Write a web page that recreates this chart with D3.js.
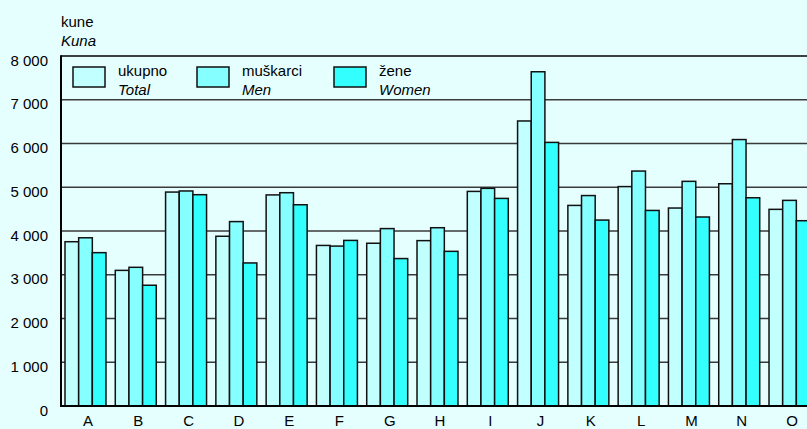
<!DOCTYPE html>
<html lang="hr">
  <head>
    <meta charset="utf-8">
    <script src="https://d3js.org/d3.v7.min.js"></script>
    <style>
      body { margin: 0; background: #e5ffff; }
      text { font-family: "Liberation Sans", Arial, sans-serif; font-size: 15px; fill: #000; }
    </style>
  </head>
  <body>
  <script type="text/javascript">

    // categories (activity sections) and average wages in kune
    var categories = ["A","B","C","D","E","F","G","H","I","J","K","L","M","N","O"];
    var total = [3755, 3100, 4890, 3880, 4825, 3670, 3720, 3780, 4905, 6515, 4585, 5015, 4525, 5080, 4495];
    var men   = [3845, 3170, 4915, 4215, 4875, 3655, 4055, 4075, 4975, 7640, 4810, 5370, 5135, 6090, 4700];
    var women = [3505, 2760, 4830, 3270, 4600, 3785, 3370, 3535, 4745, 6025, 4250, 4470, 4320, 4760, 4235];
    var yTicks = [0, 1000, 2000, 3000, 4000, 5000, 6000, 7000, 8000];

    var seriesNames = ["total", "men", "women"];
    var seriesLabels = [["ukupno", "Total"], ["muškarci", "Men"], ["žene", "Women"]];
    var colors = ["#c2ffff", "#85ffff", "#33ffff"];

    var width = 807, height = 429;
    var plotLeft = 61, plotTop = 56, plotBottom = 406;

    var svg = d3.select("body").append("svg")
      .attr("width", width)
      .attr("height", height);

    svg.append("rect").attr("width", width).attr("height", height).attr("fill", "#e5ffff");

    var y = d3.scaleLinear().domain([0, 8000]).range([plotBottom, plotTop]);

    var x = d3.scaleBand()
      .domain(categories)
      .range([65, 810])
      .paddingInner(0.185)
      .paddingOuter(0)
      .align(0);

    var xs = d3.scaleBand().domain(seriesNames).range([0, x.bandwidth()]);

    // grid lines
    svg.append("g").selectAll("line")
      .data(yTicks.filter(function(d) { return d > 0; }))
      .enter().append("line")
      .attr("x1", plotLeft).attr("x2", width)
      .attr("y1", function(d) { return y(d); })
      .attr("y2", function(d) { return y(d); })
      .attr("stroke", function(d) { return d == 8000 ? "#000" : "#3a3a3a"; })
      .attr("stroke-width", 1.5);

    // y tick labels
    var fmt = function(d) { return d3.format(",")(d).replace(/,/g, " "); };
    svg.append("g").selectAll("text")
      .data(yTicks)
      .enter().append("text")
      .attr("x", 48)
      .attr("y", function(d) { return y(d) + 9.5; })
      .attr("text-anchor", "end")
      .text(fmt);

    // bars
    var rows = categories.map(function(c, i) {
      return { cat: c, values: [total[i], men[i], women[i]] };
    });

    var groups = svg.append("g").selectAll("g")
      .data(rows)
      .enter().append("g")
      .attr("transform", function(d) { return "translate(" + x(d.cat) + ",0)"; });

    groups.selectAll("rect")
      .data(function(d) { return d.values.map(function(v, j) { return { key: seriesNames[j], v: v, j: j }; }); })
      .enter().append("rect")
      .attr("x", function(d) { return xs(d.key); })
      .attr("width", xs.bandwidth())
      .attr("y", function(d) { return y(d.v); })
      .attr("height", function(d) { return plotBottom - y(d.v); })
      .attr("fill", function(d) { return colors[d.j]; })
      .attr("stroke", "#111")
      .attr("stroke-width", 1.5);

    // x labels
    svg.append("g").selectAll("text")
      .data(categories)
      .enter().append("text")
      .attr("x", function(d) { return x(d) + x.bandwidth() / 2 + 2.5; })
      .attr("y", 426)
      .attr("text-anchor", "middle")
      .text(function(d) { return d; });

    // axes
    svg.append("line").attr("x1", plotLeft).attr("x2", plotLeft).attr("y1", plotTop - 0.75).attr("y2", plotBottom + 1)
      .attr("stroke", "#000").attr("stroke-width", 2);
    svg.append("line").attr("x1", plotLeft - 1).attr("x2", width).attr("y1", plotBottom).attr("y2", plotBottom)
      .attr("stroke", "#000").attr("stroke-width", 2);

    // unit label
    svg.append("text").attr("x", 61).attr("y", 27).text("kune");
    svg.append("text").attr("x", 61).attr("y", 46).style("font-style", "italic").text("Kuna");

    // legend
    var legendX = [73, 197, 334];
    var legend = svg.append("g").selectAll("g")
      .data(seriesLabels)
      .enter().append("g")
      .attr("transform", function(d, i) { return "translate(" + legendX[i] + ",67)"; });

    legend.append("rect")
      .attr("width", 32).attr("height", 20)
      .attr("fill", function(d, i) { return colors[i]; })
      .attr("stroke", "#111").attr("stroke-width", 1.5);
    legend.append("text").attr("x", 45).attr("y", 9).text(function(d) { return d[0]; });
    legend.append("text").attr("x", 45).attr("y", 28).style("font-style", "italic").text(function(d) { return d[1]; });

  </script>
  </body>
</html>
